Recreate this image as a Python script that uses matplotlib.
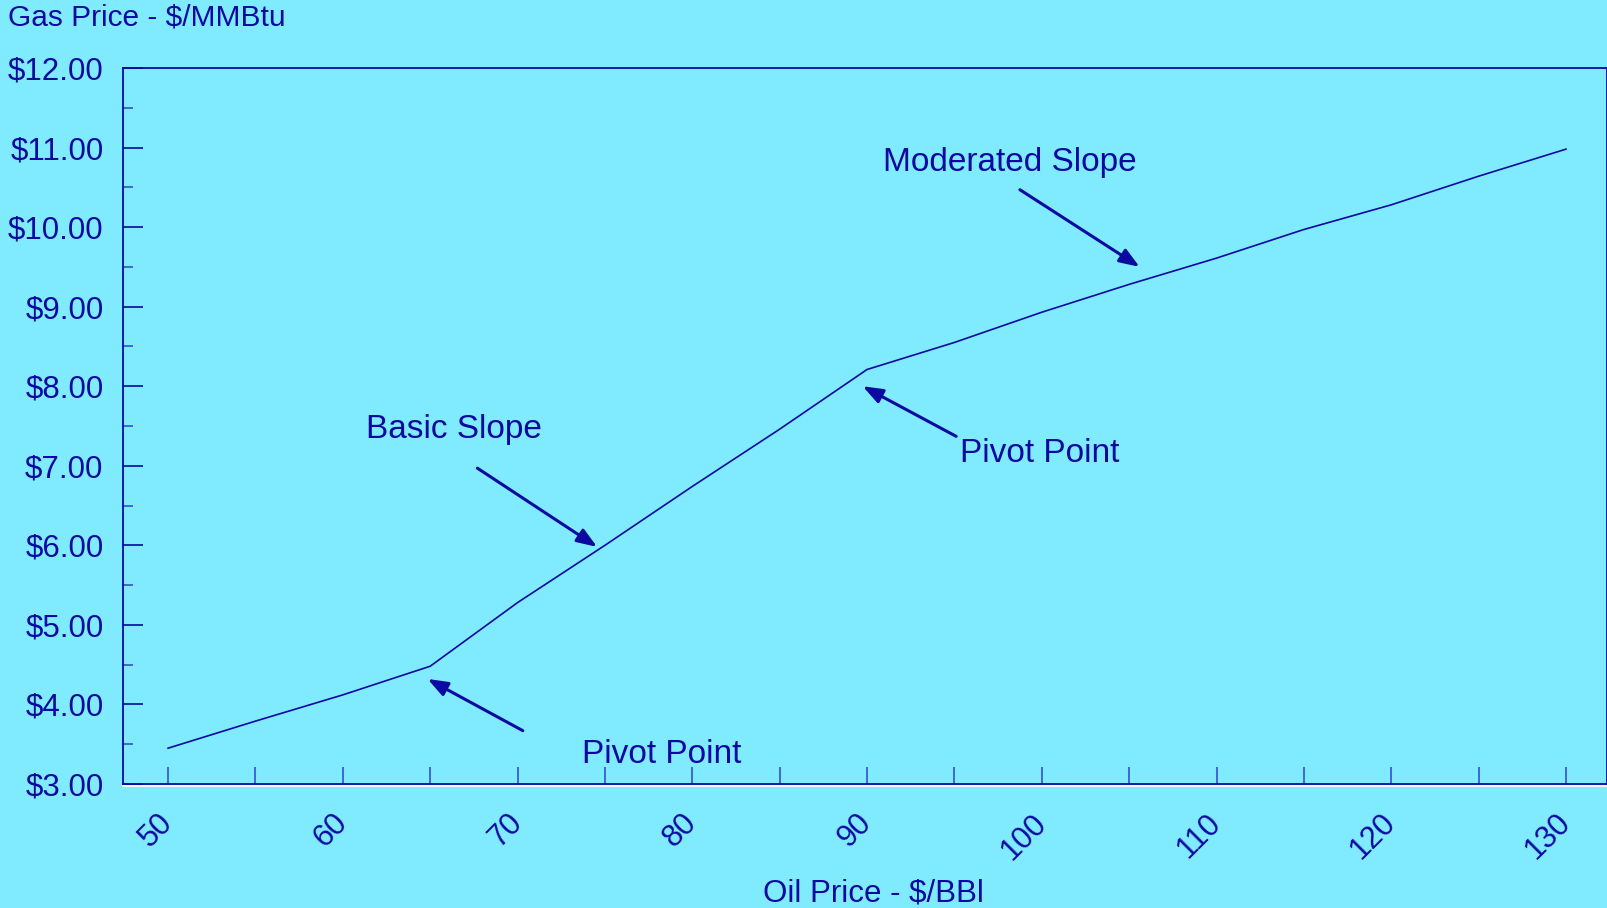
import numpy as np
import matplotlib
matplotlib.use("Agg")
import matplotlib.pyplot as plt
from matplotlib.lines import Line2D

# oil price ($/BBl) vs gas price ($/MMBtu)
oil_price = [50, 55, 60, 65, 70, 75, 80, 85, 90, 95, 100, 105, 110, 115, 120, 125, 130]
gas_price = [3.45, 3.79, 4.12, 4.48, 5.28, 6.00, 6.74, 7.46, 8.21,
             8.55, 8.93, 9.28, 9.61, 9.97, 10.28, 10.64, 10.98]
y_ticks = [3, 4, 5, 6, 7, 8, 9, 10, 11, 12]
x_ticklabels = [str(v) if v % 10 == 0 else "" for v in oil_price]

# annotations: text, text xy, arrow tail, arrow head (data units)
notes = [
    ("Moderated Slope", (90.9, 10.81), (98.75, 10.47), (105.6, 9.50)),
    ("Basic Slope", (61.3, 7.46), (67.7, 6.97), (74.55, 5.98)),
    ("Pivot Point", (95.3, 7.16), (95.1, 7.37), (89.75, 8.00)),
    ("Pivot Point", (73.7, 3.37), (70.3, 3.67), (64.85, 4.32)),
]

BG = "#80EAFF"
INK = "#0A0AA0"
TICK = "#3A4FCF"

plt.rcParams["font.family"] = ["Liberation Sans", "DejaVu Sans"]

fig = plt.figure(figsize=(16.08, 9.08), dpi=100, facecolor=BG)
ax = fig.add_axes([0.0765, 0.1366, 0.9229, 0.7885], facecolor=BG)

ax.plot(oil_price, gas_price, color=INK, lw=1.2)

ax.set_xlim(47.42, 132.35)
ax.set_ylim(3, 12)

ax.set_xticks(oil_price)
ax.set_xticklabels(x_ticklabels)
ax.set_yticks(y_ticks)
ax.set_yticklabels([f"${v:.2f}" for v in y_ticks])
ax.set_yticks(np.arange(3.5, 12, 1.0), minor=True)

ax.tick_params(axis="x", direction="in", length=12, width=1.2, color=TICK,
               labelcolor=INK, labelsize=22, pad=25)
ax.tick_params(axis="y", which="major", direction="in", length=14.5, width=1.2,
               color=INK, labelcolor=INK, labelsize=22.5, pad=14)
ax.tick_params(axis="y", which="minor", direction="in", length=7, width=1.2, color=TICK)
for lab in ax.get_xticklabels():
    lab.set_rotation(45)
    lab.set_rotation_mode("anchor")
    lab.set_ha("right")
    lab.set_va("center")

for sp in ax.spines.values():
    sp.set_color(INK)
    sp.set_linewidth(1.3)

# thin white highlight under the x axis line
fig.add_artist(Line2D([0.0765, 0.9994], [0.1366 - 2.5 / 908] * 2, color="white", lw=1.2))

for txt, txy, tail, head in notes:
    ax.text(txy[0], txy[1], txt, color=INK, fontsize=24, va="center", ha="left")
    ax.annotate("", xy=head, xytext=tail,
                arrowprops=dict(arrowstyle="-|>,head_length=1.2,head_width=0.45",
                                color=INK, lw=2.2, shrinkA=0, shrinkB=0))

fig.text(8 / 1608, 1 - 17 / 908, "Gas Price - $/MMBtu", color=INK, fontsize=21.5,
         ha="left", va="center")
fig.text(873 / 1608, 7 / 908, "Oil Price - $/BBl", color=INK, fontsize=22.5,
         ha="center", va="baseline")

fig.savefig("out.png", dpi=100, facecolor=BG)
